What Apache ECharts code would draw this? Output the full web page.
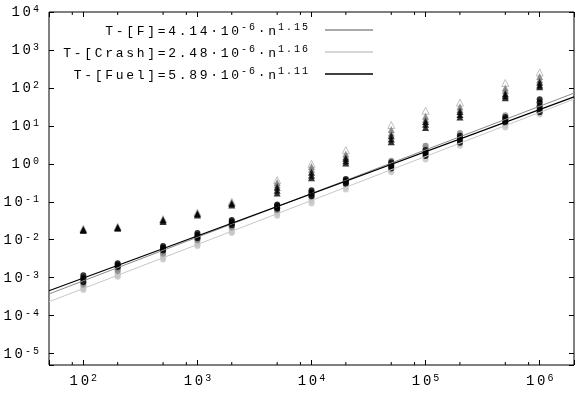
<!DOCTYPE html>
<html>
<head>
<meta charset="utf-8">
<style>
  html, body { margin: 0; padding: 0; background: #fff; }
  #chart { width: 579px; height: 400px; }
</style>
<script src="https://cdn.jsdelivr.net/npm/echarts@6/dist/echarts.min.js"></script>
</head>
<body>
<div id="chart"></div>
<script>
// problem sizes (x axis)
var sizes = [100, 200, 500, 1e3, 2e3, 5e3, 1e4, 2e4, 5e4, 1e5, 2e5, 5e5, 1e6];

// measured times, one list of runs per size
var fuelTimes = [
    [1.15e-3, 1.0e-3, 9.2e-4, 7.6e-4], [2.4e-3, 2.2e-3, 2.0e-3, 1.9e-3],
    [6.8e-3, 6.2e-3, 5.6e-3, 5.2e-3], [1.5e-2, 1.35e-2, 1.2e-2, 1.1e-2],
    [3.3e-2, 3.0e-2, 2.7e-2, 2.4e-2], [8.5e-2, 7.8e-2, 7.0e-2, 6.5e-2],
    [0.2, 0.18, 0.16, 0.14], [0.40, 0.36, 0.33, 0.30], [1.1, 0.95, 0.85, 0.75],
    [2.3, 2.0, 1.8, 1.6], [5.5, 4.8, 4.2, 3.6], [17, 15, 13, 12], [50, 42, 33, 27, 23]
];
var fTimes = [
    [8.5e-4, 7.5e-4, 6.5e-4], [1.8e-3, 1.65e-3, 1.5e-3], [5.4e-3, 4.8e-3, 4.3e-3],
    [1.15e-2, 1.05e-2, 9.5e-3], [2.6e-2, 2.3e-2, 2.1e-2], [7.4e-2, 6.5e-2, 5.8e-2],
    [0.17, 0.15, 0.135], [0.38, 0.34, 0.30], [1.2, 1.05, 0.9], [3.0, 2.6, 2.3],
    [6.5, 5.6, 5.0], [19, 16, 14], [40, 34, 30]
];
var crashTimes = [
    [5.8e-4, 5.2e-4, 4.7e-4], [1.3e-3, 1.15e-3, 1.05e-3], [3.8e-3, 3.4e-3, 3.0e-3],
    [8.2e-3, 7.4e-3, 6.8e-3], [1.85e-2, 1.65e-2, 1.5e-2], [5.3e-2, 4.8e-2, 4.3e-2],
    [0.12, 0.105, 0.09], [0.27, 0.24, 0.21], [0.78, 0.68, 0.6], [3.0, 1.6, 1.3],
    [3.9, 3.4, 3.0], [11, 10, 9], [25, 22, 20]
];
var triBlack = [
    [0.0185, 0.0175], [0.021, 0.020], [0.033, 0.030], [0.048, 0.045], [0.09, 0.082],
    [0.24, 0.20, 0.17], [0.6, 0.5, 0.43], [1.4, 1.2, 1.05], [5.5, 4.5, 3.8],
    [13, 11, 9], [24, 20, 17], [70, 62, 55], [140, 120, 107]
];
var triGray = [
    [0.019], [0.0215], [0.034], [0.05], [0.095], [0.32, 0.28], [0.85, 0.72],
    [1.8, 1.55], [8, 6.5], [18, 15], [32, 27], [100, 85], [200, 165]
];
var triLight = [
    [0.0195], [0.022], [0.035], [0.052], [0.1], [0.37], [1.0], [2.3], [10.5],
    [25], [41], [135], [255]
];

// fitted lines, read at the plot edges
var fitX = [50, 2e6];
var fitF = [3.72e-4, 72.9];
var fitCrash = [2.32e-4, 50.5];
var fitFuel = [4.53e-4, 58.1];

// legend texts: [main, sup, main, sup]
var legendF = ['T-[F]=4.14·10', '-6', '·n', '1.15'];
var legendCrash = ['T-[Crash]=2.48·10', '-6', '·n', '1.16'];
var legendFuel = ['T-[Fuel]=5.89·10', '-6', '·n', '1.11'];

// extra x ticks between the decades
var minorTicks = [80, 200, 500, 800, 2e3, 5e3, 8e3, 2e4, 5e4, 8e4, 2e5, 5e5, 8e5];

var FONT = 'Liberation Mono';

/**
 * one rich token per character, so that the letters get spaced like the original
 */
function spaced(str, style, first) {
    var out = '';
    for (var i = 0; i < str.length; i++) {
        var st = (i === 0 && first) ? style + '0' : style;
        out += '{' + st + '|' + str.charAt(i) + '}';
    }
    return out;
}

function richStyles(size, supSize, raise) {
    return {
        m0: {fontFamily: FONT, fontSize: size, color: '#000', verticalAlign: 'bottom'},
        m: {fontFamily: FONT, fontSize: size, color: '#000', verticalAlign: 'bottom', padding: [0, 0, 0, 2.7]},
        s: {fontFamily: FONT, fontSize: supSize, color: '#000', verticalAlign: 'bottom', padding: [0, 0, raise, 2]},
        g: {fontFamily: FONT, fontSize: 4, width: 12}
    };
}

function legendText(parts) {
    return spaced(parts[0], 'm', true) + spaced(parts[1], 's') +
        spaced(parts[2], 'm') + spaced(parts[3], 's') + '{g| }';
}

function powerLabel(value) {
    var e = Math.log(value) / Math.LN10;
    var r = Math.round(e);
    if (Math.abs(e - r) > 1e-6) {
        return '';
    }
    return spaced('10', 'm', true) + spaced(String(r), 's');
}

function toPoints(runs) {
    var pts = [];
    for (var i = 0; i < sizes.length; i++) {
        for (var j = 0; j < runs[i].length; j++) {
            pts.push([sizes[i], runs[i][j]]);
        }
    }
    return pts;
}

function fitLine(ys) {
    return [[fitX[0], ys[0]], [fitX[1], ys[1]]];
}

// small deep merge, no jQuery on the page
function merge(target, src) {
    for (var k in src) {
        if (src[k] && typeof src[k] === 'object' && !Array.isArray(src[k])) {
            target[k] = merge(target[k] && typeof target[k] === 'object' ? target[k] : {}, src[k]);
        } else {
            target[k] = src[k];
        }
    }
    return target;
}

function initChart() {
    var myChart = echarts.init(document.getElementById('chart'));
    var legendNames = {F: legendF, Crash: legendCrash, Fuel: legendFuel};

    var xBase = {
        type: 'log', logBase: 10, min: 50, max: 2e6, splitNumber: 6,
        axisLine: {show: false},
        splitLine: {show: false},
        axisTick: {inside: true, length: 5, lineStyle: {color: '#000'}}
    };
    var yBase = {
        type: 'log', logBase: 10, min: 5e-6, max: 1e4, splitNumber: 10,
        axisLine: {show: false},
        splitLine: {show: false},
        axisTick: {inside: true, length: 5, lineStyle: {color: '#000'}}
    };

    var option = {
        animation: false,
        backgroundColor: '#fff',
        grid: {left: 49, right: 5, top: 12, bottom: 35, show: true, borderColor: '#000', borderWidth: 1},
        legend: {
            data: ['F', 'Crash', 'Fuel'],
            orient: 'vertical', align: 'right', right: 201, top: 17,
            icon: 'rect', itemWidth: 48, itemHeight: 1.3, itemGap: 6,
            selectedMode: false,
            formatter: function (name) { return legendText(legendNames[name]); },
            textStyle: {rich: richStyles(13, 10, 6)}
        },
        xAxis: [
            merge(merge({}, xBase), {
                position: 'bottom',
                axisLabel: {margin: 8, formatter: powerLabel, rich: richStyles(14, 10, 5)}
            }),
            merge(merge({}, xBase), {position: 'top', axisLabel: {show: false}})
        ],
        yAxis: [
            merge(merge({}, yBase), {
                position: 'left',
                axisLabel: {margin: 10, formatter: powerLabel, rich: richStyles(14, 10, 5)}
            }),
            merge(merge({}, yBase), {position: 'right', axisLabel: {show: false}})
        ],
        series: [
            {
                type: 'custom', silent: true, clip: false,
                data: minorTicks.map(function (v) { return [v, 1]; }),
                renderItem: function (params, api) {
                    var x = api.coord([api.value(0), 1])[0];
                    var cs = params.coordSys;
                    var st = {stroke: '#000', lineWidth: 1};
                    return {
                        type: 'group',
                        children: [
                            {type: 'line', shape: {x1: x, y1: cs.y + cs.height, x2: x, y2: cs.y + cs.height - 3}, style: st},
                            {type: 'line', shape: {x1: x, y1: cs.y, x2: x, y2: cs.y + 3}, style: st}
                        ]
                    };
                }
            },
            {name: 'F', type: 'line', data: fitLine(fitF), symbol: 'none', lineStyle: {color: '#8c8c8c', width: 1}, itemStyle: {color: '#8c8c8c'}},
            {name: 'Crash', type: 'line', data: fitLine(fitCrash), symbol: 'none', lineStyle: {color: '#c8c8c8', width: 1}, itemStyle: {color: '#c8c8c8'}},
            {name: 'Fuel', type: 'line', data: fitLine(fitFuel), symbol: 'none', lineStyle: {color: '#000', width: 1.2}, itemStyle: {color: '#000'}},
            {type: 'scatter', data: toPoints(triLight), symbol: 'triangle', symbolSize: 7, itemStyle: {color: '#fff', borderColor: '#b0b0b0', borderWidth: 1}},
            {type: 'scatter', data: toPoints(triGray), symbol: 'triangle', symbolSize: 7, itemStyle: {color: '#7a7a7a'}},
            {type: 'scatter', data: toPoints(triBlack), symbol: 'triangle', symbolSize: 7, itemStyle: {color: '#000'}},
            {type: 'scatter', data: toPoints(crashTimes), symbol: 'circle', symbolSize: 6, itemStyle: {color: '#c4c4c4'}},
            {type: 'scatter', data: toPoints(fTimes), symbol: 'circle', symbolSize: 6, itemStyle: {color: '#8a8a8a'}},
            {type: 'scatter', data: toPoints(fuelTimes), symbol: 'circle', symbolSize: 6, itemStyle: {color: '#000'}}
        ]
    };
    myChart.setOption(option);
}

initChart();
</script>
</body>
</html>
